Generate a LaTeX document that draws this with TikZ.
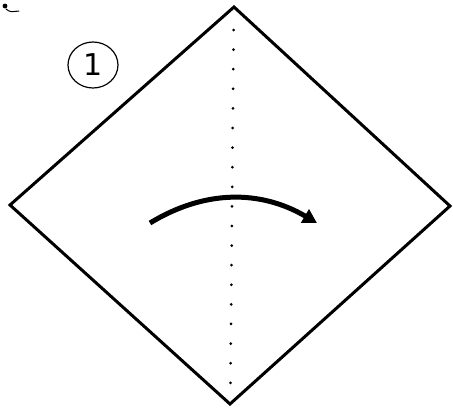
\documentclass[tikz,border=0pt]{standalone}
\usepackage{fontspec}
\setmainfont{DejaVu Sans}
\usetikzlibrary{arrows.meta,shapes.geometric}
\tikzset{
  paper/.style={line width=3pt, line join=miter},
  valley/.style={line width=3pt, line cap=round, dash pattern=on 0pt off 19.6pt},
  foldarrow/.style={line width=5pt, -{Triangle[length=14pt,width=15pt]}},
  stepnum/.style={draw, line width=1.2pt, ellipse, minimum width=50pt, minimum height=46pt, inner sep=0pt, font=\fontsize{30}{30}\selectfont}
}
\begin{document}
\begin{tikzpicture}[x=1pt,y=-1pt]
\useasboundingbox (0,0) rectangle (453,408);
\coordinate (T) at (234,7);
\coordinate (R) at (450,206);
\coordinate (B) at (230,404);
\coordinate (L) at (10,205);
\draw[paper] (T) -- (R) -- (B) -- (L) -- cycle;
\coordinate (d1) at (233.6,30);
\coordinate (d2) at (230.4,392);
\draw[valley] (d1) -- (d2);
\coordinate (a1) at (150,223);
\coordinate (a2) at (317,223);
\draw[foldarrow] (a1) .. controls (204.7,189.7) and (260.3,189.7) .. (a2);
\node[stepnum] (n1) at (93,65) {1};
\coordinate (m1) at (5,6);
\coordinate (m2) at (19,11);
\fill (m1) circle (2.4pt);
\draw[line width=1pt, line cap=round] (6,9) .. controls (10,12) .. (m2);
\end{tikzpicture}
\end{document}
